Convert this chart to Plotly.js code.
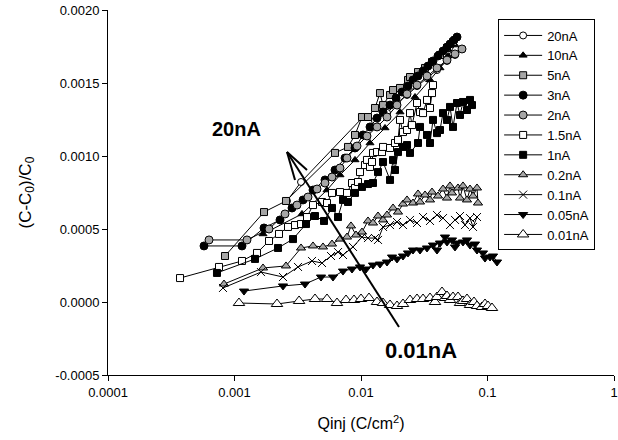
<!DOCTYPE html>
<html>
<head>
<meta charset="utf-8">
<script src="https://cdn.plot.ly/plotly-3.0.1.min.js"></script>
<style>html,body{margin:0;padding:0;background:#fff;}</style>
</head>
<body>
<div id="chart" style="width:618px;height:440px;"></div>
<script>
// Series names (legend)
const seriesNames = ["20nA","10nA","5nA","3nA","2nA","1.5nA","1nA","0.2nA","0.1nA","0.05nA","0.01nA"];

// Qinj (C/cm^2) and (C-C0)/C0 for each series
const q20nA = [2.600e-3,3.356e-3,1.037e-2,1.290e-2,1.606e-2,1.926e-2,2.311e-2,2.772e-2,3.325e-2,3.988e-2,4.785e-2,5.535e-2,6.288e-2];
const r20nA = [0.692e-3,0.822e-3,1.267e-3,1.240e-3,1.295e-3,1.363e-3,1.418e-3,1.479e-3,1.534e-3,1.589e-3,1.651e-3,1.692e-3,1.733e-3];

const q10nA = [1.680e-3,3.417e-3,5.386e-3,6.823e-3,8.967e-3,1.178e-2,1.548e-2,2.034e-2,2.673e-2,3.512e-2,4.212e-2,4.873e-2,5.535e-2];
const r10nA = [0.466e-3,0.603e-3,0.767e-3,0.870e-3,0.973e-3,1.089e-3,1.192e-3,1.301e-3,1.404e-3,1.521e-3,1.603e-3,1.685e-3,1.760e-3];

const q5nA = [8.41e-4,1.711e-3,2.553e-3,6.230e-3,7.893e-3,8.967e-3,1.018e-2,1.136e-2,1.290e-2,1.413e-2,1.493e-2,1.696e-2,1.791e-2,2.034e-2,2.353e-2,2.440e-2,2.823e-2,3.207e-2,3.642e-2,4.212e-2,4.785e-2,5.337e-2];
const r5nA = [0.315e-3,0.616e-3,0.692e-3,1.021e-3,1.062e-3,1.144e-3,1.267e-3,1.267e-3,1.329e-3,1.431e-3,1.349e-3,1.418e-3,1.452e-3,1.466e-3,1.521e-3,1.541e-3,1.575e-3,1.603e-3,1.644e-3,1.692e-3,1.740e-3,1.781e-3];

const q3nA = [5.74e-4,1.146e-3,1.711e-3,2.289e-3,2.848e-3,3.480e-3,4.175e-3,5.193e-3,6.230e-3,7.473e-3,8.967e-3,1.037e-2,1.178e-2,1.338e-2,1.493e-2,1.696e-2,1.891e-2,2.110e-2,2.353e-2,2.577e-2,2.823e-2,3.092e-2,3.385e-2,3.709e-2,4.061e-2,4.449e-2,4.785e-2,5.053e-2,5.435e-2,5.741e-2];
const r3nA = [0.384e-3,0.384e-3,0.507e-3,0.562e-3,0.644e-3,0.699e-3,0.767e-3,0.836e-3,0.904e-3,0.986e-3,1.055e-3,1.144e-3,1.199e-3,1.260e-3,1.301e-3,1.349e-3,1.397e-3,1.438e-3,1.479e-3,1.521e-3,1.548e-3,1.582e-3,1.616e-3,1.651e-3,1.685e-3,1.719e-3,1.746e-3,1.767e-3,1.794e-3,1.815e-3];

const q2nA = [6.29e-4,1.255e-3,1.874e-3,2.507e-3,3.120e-3,3.811e-3,4.490e-3,5.193e-3,5.899e-3,6.823e-3,7.750e-3,9.299e-3,1.115e-2,1.338e-2,1.606e-2,1.926e-2,2.311e-2,2.772e-2,3.325e-2,3.988e-2,4.785e-2,5.535e-2,6.288e-2];
const r2nA = [0.425e-3,0.425e-3,0.500e-3,0.603e-3,0.664e-3,0.719e-3,0.774e-3,0.815e-3,0.856e-3,0.918e-3,0.986e-3,1.068e-3,1.137e-3,1.199e-3,1.267e-3,1.349e-3,1.425e-3,1.486e-3,1.548e-3,1.603e-3,1.657e-3,1.699e-3,1.733e-3];

const q1p5nA = [3.71e-4,7.54e-4,1.146e-3,1.506e-3,1.874e-3,2.248e-3,2.648e-3,3.008e-3,3.356e-3,3.742e-3,4.175e-3,4.917e-3,5.386e-3,5.899e-3,6.823e-3,7.750e-3,8.489e-3,8.967e-3,9.470e-3,9.820e-3,1.075e-2,1.115e-2,1.178e-2,1.222e-2,1.244e-2,1.338e-2,1.466e-2,1.493e-2,1.696e-2,1.857e-2,1.961e-2,2.034e-2,2.148e-2,2.311e-2,2.440e-2,2.531e-2,2.772e-2,2.928e-2,3.092e-2,3.325e-2,3.512e-2,3.642e-2,3.709e-2];
const r1p5nA = [0.164e-3,0.240e-3,0.281e-3,0.336e-3,0.418e-3,0.466e-3,0.514e-3,0.527e-3,0.534e-3,0.582e-3,0.664e-3,0.685e-3,0.678e-3,0.747e-3,0.753e-3,0.747e-3,0.815e-3,0.781e-3,0.822e-3,0.890e-3,0.938e-3,0.973e-3,0.925e-3,0.959e-3,1.021e-3,1.027e-3,1.027e-3,1.062e-3,1.055e-3,1.089e-3,1.110e-3,1.247e-3,1.164e-3,1.178e-3,1.294e-3,1.212e-3,1.363e-3,1.301e-3,1.294e-3,1.384e-3,1.329e-3,1.431e-3,1.486e-3];

const q1nA = [7.27e-4,1.452e-3,2.208e-3,2.901e-3,3.675e-3,4.329e-3,5.100e-3,5.899e-3,6.580e-3,7.206e-3,7.893e-3,8.967e-3,1.018e-2,1.136e-2,1.244e-2,1.363e-2,1.493e-2,1.696e-2,1.791e-2,1.857e-2,1.961e-2,2.148e-2,2.311e-2,2.440e-2,2.823e-2,2.928e-2,3.325e-2,3.512e-2,3.709e-2,3.988e-2,4.212e-2,4.449e-2,4.785e-2,5.053e-2,5.337e-2,5.741e-2,6.063e-2,6.403e-2,6.887e-2,7.272e-2,7.542e-2];
const r1nA = [0.199e-3,0.295e-3,0.370e-3,0.431e-3,0.534e-3,0.589e-3,0.555e-3,0.644e-3,0.582e-3,0.699e-3,0.685e-3,0.747e-3,0.788e-3,0.808e-3,0.815e-3,0.890e-3,0.959e-3,0.836e-3,0.973e-3,0.904e-3,1.027e-3,1.062e-3,1.075e-3,1.021e-3,1.089e-3,1.199e-3,1.144e-3,1.089e-3,1.247e-3,1.157e-3,1.178e-3,1.294e-3,1.247e-3,1.336e-3,1.199e-3,1.363e-3,1.281e-3,1.370e-3,1.315e-3,1.384e-3,1.349e-3];

const q0p2nA = [8.26e-4,1.680e-3,2.553e-3,3.356e-3,4.175e-3,5.008e-3,5.899e-3,6.823e-3,7.750e-3,8.335e-3,9.130e-3,1.018e-2,1.136e-2,1.244e-2,1.363e-2,1.493e-2,1.606e-2,1.791e-2,1.961e-2,2.148e-2,2.311e-2,2.577e-2,2.823e-2,2.928e-2,3.207e-2,3.512e-2,3.642e-2,4.061e-2,4.449e-2,4.785e-2,5.053e-2,5.241e-2,5.846e-2,6.063e-2,6.403e-2,6.887e-2,7.272e-2,7.680e-2,8.260e-2,8.41e-2];
const r0p2nA = [0.123e-3,0.233e-3,0.247e-3,0.370e-3,0.384e-3,0.377e-3,0.397e-3,0.431e-3,0.445e-3,0.521e-3,0.459e-3,0.479e-3,0.555e-3,0.541e-3,0.589e-3,0.562e-3,0.596e-3,0.644e-3,0.616e-3,0.671e-3,0.699e-3,0.678e-3,0.740e-3,0.685e-3,0.733e-3,0.699e-3,0.753e-3,0.726e-3,0.774e-3,0.712e-3,0.795e-3,0.747e-3,0.781e-3,0.712e-3,0.795e-3,0.699e-3,0.774e-3,0.726e-3,0.781e-3,0.678e-3];

const q0p1nA = [8.11e-4,1.620e-3,2.418e-3,3.177e-3,4.100e-3,4.917e-3,5.793e-3,6.580e-3,7.206e-3,8.646e-3,1.018e-2,1.136e-2,1.290e-2,1.363e-2,1.493e-2,1.696e-2,1.926e-2,2.148e-2,2.440e-2,2.772e-2,3.092e-2,3.512e-2,3.988e-2,4.449e-2,5.053e-2,5.535e-2,6.063e-2,6.640e-2,7.272e-2,7.680e-2,8.260e-2];
const r0p1nA = [0.096e-3,0.205e-3,0.171e-3,0.240e-3,0.281e-3,0.267e-3,0.315e-3,0.342e-3,0.322e-3,0.377e-3,0.445e-3,0.438e-3,0.438e-3,0.425e-3,0.514e-3,0.527e-3,0.548e-3,0.527e-3,0.562e-3,0.541e-3,0.582e-3,0.555e-3,0.596e-3,0.575e-3,0.527e-3,0.562e-3,0.589e-3,0.527e-3,0.575e-3,0.514e-3,0.582e-3];

const q0p05nA = [1.189e-3,2.418e-3,3.609e-3,4.830e-3,6.007e-3,7.206e-3,8.489e-3,9.820e-3,1.095e-2,1.244e-2,1.413e-2,1.606e-2,1.759e-2,1.926e-2,2.148e-2,2.353e-2,2.577e-2,2.928e-2,3.325e-2,3.709e-2,3.988e-2,4.212e-2,4.613e-2,4.785e-2,5.241e-2,5.535e-2,5.741e-2,6.403e-2,6.887e-2,7.272e-2,7.965e-2,8.260e-2,9.214e-2,9.555e-2,0.1047,0.1106,0.1189];
const r0p05nA = [0.075e-3,0.110e-3,0.123e-3,0.171e-3,0.171e-3,0.212e-3,0.226e-3,0.240e-3,0.226e-3,0.253e-3,0.260e-3,0.274e-3,0.308e-3,0.295e-3,0.315e-3,0.336e-3,0.356e-3,0.356e-3,0.370e-3,0.390e-3,0.356e-3,0.404e-3,0.445e-3,0.411e-3,0.425e-3,0.377e-3,0.404e-3,0.411e-3,0.425e-3,0.390e-3,0.397e-3,0.356e-3,0.336e-3,0.301e-3,0.308e-3,0.315e-3,0.274e-3];

const q0p01nA = [1.085e-3,2.168e-3,3.24e-3,4.329e-3,5.386e-3,6.461e-3,7.610e-3,8.805e-3,1.000e-2,1.157e-2,1.338e-2,1.493e-2,1.696e-2,1.926e-2,2.148e-2,2.440e-2,2.772e-2,3.092e-2,3.512e-2,3.846e-2,3.988e-2,4.368e-2,4.613e-2,4.785e-2,5.053e-2,5.337e-2,5.846e-2,6.063e-2,6.403e-2,6.887e-2,7.272e-2,7.82e-2,8.260e-2,9.048e-2,9.555e-2,0.1009,0.1085];
const r0p01nA = [-0.7e-5,-1.37e-5,0.7e-5,2.05e-5,2.05e-5,-0.7e-5,1.37e-5,1.37e-5,2.05e-5,2.74e-5,0,-0.7e-5,-2.05e-5,-2.74e-5,-1.37e-5,1.37e-5,2.05e-5,2.05e-5,2.74e-5,0,3.42e-5,6.85e-5,2.74e-5,4.1e-5,1.37e-5,3.42e-5,3.42e-5,-0.7e-5,0.7e-5,2.05e-5,-2.05e-5,0,-2.74e-5,-3.42e-5,-1.37e-5,-2.74e-5,-4.11e-5];

// Axis ticks
const xTickVals = [0.0001,0.001,0.01,0.1,1];
const xTickText = ["0.0001","0.001","0.01","0.1","1"];
const yTickVals = [-0.0005,0,0.0005,0.001,0.0015,0.002];
const yTickText = ["-0.0005","0.0000","0.0005","0.0010","0.0015","0.0020"];

const GRAY = "#a6a6a6";
const xs = [q20nA,q10nA,q5nA,q3nA,q2nA,q1p5nA,q1nA,q0p2nA,q0p1nA,q0p05nA,q0p01nA];
const ys = [r20nA,r10nA,r5nA,r3nA,r2nA,r1p5nA,r1nA,r0p2nA,r0p1nA,r0p05nA,r0p01nA];
const markers = [
  {symbol:"circle", size:7, color:"#ffffff", line:{color:"#000",width:1}},
  {symbol:"triangle-up", size:7, color:"#000000", line:{color:"#000",width:1}},
  {symbol:"square", size:7, color:GRAY, line:{color:"#000",width:1}},
  {symbol:"circle", size:8, color:"#000000", line:{color:"#000",width:1}},
  {symbol:"circle", size:8, color:GRAY, line:{color:"#000",width:1}},
  {symbol:"square", size:7, color:"#ffffff", line:{color:"#000",width:1}},
  {symbol:"square", size:7, color:"#000000", line:{color:"#000",width:1}},
  {symbol:"triangle-up", size:8, color:GRAY, line:{color:"#000",width:1}},
  {symbol:"x-thin-open", size:8, color:"#000000", line:{color:"#000",width:1}},
  {symbol:"triangle-down", size:8, color:"#000000", line:{color:"#000",width:1}},
  {symbol:"triangle-up", size:10, color:"#ffffff", line:{color:"#000",width:1}}
];

const traces = seriesNames.map((n,i)=>({
  type:"scatter", mode:"lines+markers", name:n,
  x:xs[i], y:ys[i],
  line:{color:"#000", width:1},
  marker:markers[i]
}));

const FONT = "Arial, 'Liberation Sans', sans-serif";
const layout = {
  width:618, height:440,
  margin:{l:108, r:4, t:10, b:65},
  paper_bgcolor:"#fff", plot_bgcolor:"#fff",
  font:{family:FONT, size:13, color:"#000"},
  showlegend:true,
  legend:{x:0.771, y:0.974, xanchor:"left", yanchor:"top",
    bordercolor:"#000", borderwidth:1, bgcolor:"#fff", itemwidth:38,
    font:{family:FONT, size:13, color:"#000"}, tracegroupgap:0},
  xaxis:{type:"log", range:[-4,0], tickvals:xTickVals, ticktext:xTickText,
    ticks:"outside", ticklen:5, tickcolor:"#000", showline:true, linecolor:"#000", linewidth:1,
    showgrid:false, zeroline:false, tickfont:{family:FONT,size:13},
    title:{text:"Qinj (C/cm<sup>2</sup>)", font:{family:FONT,size:16}, standoff:19}},
  yaxis:{range:[-0.0005,0.002], tickvals:yTickVals, ticktext:yTickText,
    ticks:"outside", ticklen:5, tickcolor:"#000", showline:true, linecolor:"#000", linewidth:1,
    showgrid:false, zeroline:false, tickfont:{family:FONT,size:13}},
  annotations:[
    {xref:"paper", yref:"paper", x:-0.162, y:0.5, text:"(C-C<sub>0</sub>)/C<sub>0</sub>", textangle:-90,
     showarrow:false, font:{family:FONT, size:17, color:"#000"}, xanchor:"center", yanchor:"middle"},
    {xref:"paper", yref:"paper", x:0.253, y:0.674, text:"<b>20nA</b>", showarrow:false,
     font:{family:FONT, size:20, color:"#000"}, xanchor:"center", yanchor:"middle"},
    {xref:"paper", yref:"paper", x:0.619, y:0.066, text:"<b>0.01nA</b>", showarrow:false,
     font:{family:FONT, size:22, color:"#000"}, xanchor:"center", yanchor:"middle"}
  ],
  shapes:[
    {type:"line", xref:"paper", yref:"paper", x0:0.5751, y0:0.1315, x1:0.3538, y1:0.6110, line:{color:"#000", width:2}},
    {type:"line", xref:"paper", yref:"paper", x0:0.3538, y0:0.6110, x1:0.3933, y1:0.5616, line:{color:"#000", width:2}},
    {type:"line", xref:"paper", yref:"paper", x0:0.3538, y0:0.6110, x1:0.3696, y1:0.5342, line:{color:"#000", width:2}}
  ]
};

Plotly.newPlot("chart", traces, layout, {displayModeBar:false, staticPlot:true});
</script>
</body>
</html>
